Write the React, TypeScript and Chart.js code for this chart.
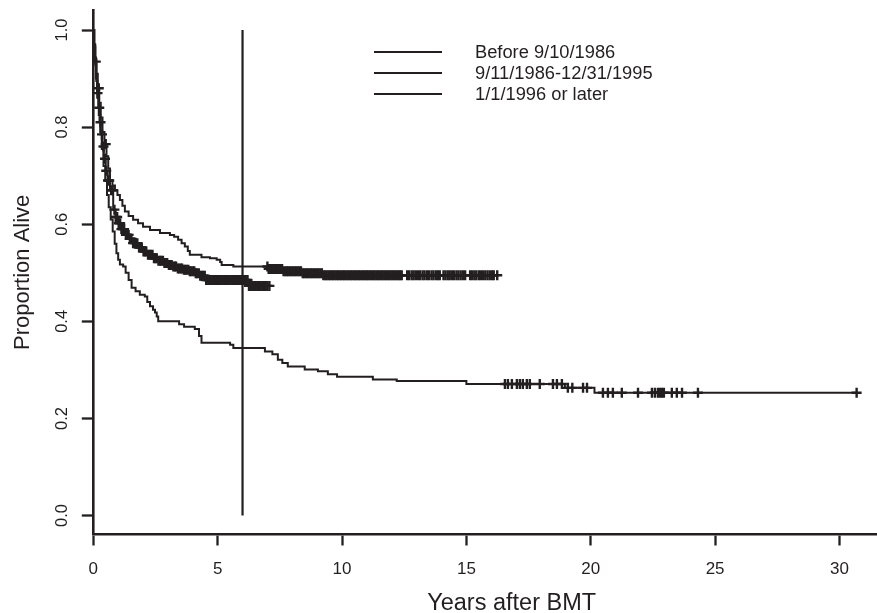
import React, { useEffect, useRef } from "react";
import { Chart, registerables } from "chart.js";

Chart.register(...registerables);

const INK = "#231f20";
const FONT = "'Liberation Sans', Arial, Helvetica, sans-serif";

const seriesLabels = ["Before 9/10/1986", "9/11/1986-12/31/1995", "1/1/1996 or later"];
const xTitle = "Years after BMT";
const yTitle = "Proportion Alive";

// Before 9/10/1986 : step times (years) and survival after each step
const earlyTimes = [0, 0.04, 0.08, 0.12, 0.17, 0.22, 0.28, 0.34, 0.41, 0.48, 0.55, 0.62, 0.7, 0.78, 0.86, 0.93, 1.0, 1.07, 1.2, 1.3, 1.42, 1.54, 1.7, 1.87, 2.07, 2.17, 2.28, 2.4, 2.48, 2.55, 2.61, 3.45, 3.65, 4.08, 4.25, 4.35, 5.5, 5.63, 6.9, 7.2, 7.42, 7.6, 7.82, 8.5, 9.03, 9.43, 9.8, 11.24, 12.2, 15.0, 18.96, 20.15, 30.7];
const earlySurv = [1, 0.965, 0.93, 0.895, 0.86, 0.825, 0.79, 0.755, 0.72, 0.69, 0.66, 0.635, 0.61, 0.585, 0.56, 0.54, 0.527, 0.517, 0.513, 0.5, 0.485, 0.469, 0.462, 0.455, 0.451, 0.44, 0.431, 0.424, 0.418, 0.41, 0.4, 0.394, 0.389, 0.384, 0.37, 0.356, 0.352, 0.345, 0.338, 0.332, 0.321, 0.314, 0.307, 0.301, 0.297, 0.291, 0.286, 0.28, 0.277, 0.271, 0.263, 0.253, 0.253];
const earlyCensor = [16.55, 16.67, 16.83, 17.03, 17.15, 17.27, 17.43, 17.55, 17.95, 18.48, 18.64, 18.84, 19.08, 19.26, 19.69, 19.85, 20.49, 20.69, 20.89, 21.25, 21.9, 22.46, 22.58, 22.7, 22.78, 22.86, 22.94, 23.26, 23.46, 23.67, 24.31, 30.69];

// 9/11/1986-12/31/1995
const midTimes = [0, 0.04, 0.08, 0.13, 0.18, 0.24, 0.3, 0.37, 0.45, 0.53, 0.6, 0.67, 0.77, 0.87, 0.97, 1.07, 1.17, 1.27, 1.42, 1.6, 1.8, 2.0, 2.28, 2.68, 3.08, 3.25, 3.41, 3.55, 3.68, 3.8, 3.88, 4.35, 4.69, 4.96, 5.1, 5.16, 5.63, 7.05, 7.6, 8.4, 9.2, 16.3];
const midSurv = [1, 0.97, 0.94, 0.91, 0.88, 0.85, 0.82, 0.79, 0.765, 0.74, 0.715, 0.69, 0.68, 0.67, 0.66, 0.65, 0.638, 0.626, 0.617, 0.609, 0.602, 0.595, 0.588, 0.582, 0.578, 0.574, 0.568, 0.561, 0.554, 0.545, 0.537, 0.532, 0.53, 0.527, 0.522, 0.516, 0.513, 0.508, 0.503, 0.499, 0.495, 0.495];
const midCensor = [0.22, 0.5, 7.0, 7.05, 7.1, 7.16, 7.22, 7.28, 7.34, 7.41, 7.47, 7.53, 7.59, 7.65, 7.72, 7.78, 7.84, 7.9, 7.97, 8.03, 8.1, 8.16, 8.22, 8.29, 8.35, 8.42, 8.48, 8.55, 8.61, 8.67, 8.74, 8.8, 8.87, 8.93, 9.0, 9.06, 9.13, 9.19, 9.25, 9.32, 9.38, 9.45, 9.51, 9.58, 9.64, 9.7, 9.77, 9.83, 9.9, 9.96, 10.03, 10.09, 10.15, 10.22, 10.28, 10.35, 10.41, 10.48, 10.54, 10.6, 10.67, 10.73, 10.8, 10.86, 10.93, 10.99, 11.05, 11.12, 11.18, 11.25, 11.31, 11.38, 11.44, 11.5, 11.57, 11.63, 11.7, 11.76, 11.83, 11.89, 11.95, 12.02, 12.08, 12.15, 12.21, 12.28, 12.34, 12.4, 12.62, 12.7, 12.8, 12.88, 12.97, 13.06, 13.14, 13.24, 13.32, 13.42, 13.5, 13.6, 13.68, 13.78, 13.86, 13.93, 14.08, 14.16, 14.25, 14.33, 14.42, 14.5, 14.6, 14.68, 14.77, 14.86, 14.95, 15.15, 15.23, 15.32, 15.4, 15.5, 15.58, 15.67, 15.76, 15.85, 15.94, 16.03, 16.1, 16.24];

// 1/1/1996 or later
const lateTimes = [0, 0.03, 0.07, 0.11, 0.15, 0.2, 0.25, 0.3, 0.36, 0.42, 0.5, 0.58, 0.67, 0.8, 0.9, 1.0, 1.13, 1.27, 1.43, 1.6, 1.8, 2.0, 2.2, 2.41, 2.6, 2.81, 3.0, 3.21, 3.4, 3.61, 3.85, 4.09, 4.3, 4.49, 6.25, 7.12];
const lateSurv = [1, 0.97, 0.935, 0.9, 0.87, 0.84, 0.81, 0.785, 0.76, 0.735, 0.71, 0.69, 0.67, 0.63, 0.615, 0.602, 0.59, 0.578, 0.57, 0.561, 0.552, 0.544, 0.537, 0.53, 0.525, 0.52, 0.516, 0.513, 0.509, 0.506, 0.503, 0.499, 0.494, 0.485, 0.473, 0.473];
const lateCensor = [0.1, 0.17, 0.24, 0.29, 0.35, 0.41, 0.47, 0.52, 0.59, 0.64, 0.72, 0.78, 0.85, 0.9, 0.96, 1.02, 1.08, 1.13, 1.19, 1.24, 1.31, 1.36, 1.42, 1.47, 1.53, 1.6, 1.66, 1.71, 1.77, 1.84, 1.9, 1.95, 2.02, 2.08, 2.13, 2.2, 2.26, 2.31, 2.38, 2.44, 2.5, 2.55, 2.62, 2.68, 2.73, 2.8, 2.86, 2.92, 2.97, 3.04, 3.1, 3.15, 3.22, 3.28, 3.33, 3.4, 3.46, 3.52, 3.57, 3.64, 3.7, 3.75, 3.82, 3.88, 3.93, 4.0, 4.06, 4.12, 4.17, 4.24, 4.3, 4.35, 4.42, 4.48, 4.54, 4.6, 4.66, 4.72, 4.79, 4.85, 4.91, 4.97, 5.04, 5.1, 5.16, 5.23, 5.29, 5.35, 5.42, 5.48, 5.55, 5.61, 5.68, 5.74, 5.81, 5.87, 5.94, 6.0, 6.07, 6.13, 6.2, 6.26, 6.33, 6.4, 6.46, 6.53, 6.6, 6.66, 6.73, 6.8, 6.86, 6.93, 7.0, 7.08];

// vertical reference line
const refLineX = 6;
const refLineY = [0, 1];

const xTicks = [0, 5, 10, 15, 20, 25, 30];
const yTicks = [0, 0.2, 0.4, 0.6, 0.8, 1.0];

function survivalAt(times: number[], surv: number[], t: number) {
  let v = surv[0];
  for (let i = 0; i < times.length; i++) {
    if (times[i] <= t) v = surv[i];
    else break;
  }
  return v;
}

function curve(times: number[], surv: number[]) {
  return {
    data: times.map((t, i) => ({ x: t, y: surv[i] })),
    stepped: true,
    borderColor: INK,
    borderWidth: 2,
    pointRadius: 0,
    fill: false,
  };
}

function censors(times: number[], surv: number[], cens: number[]) {
  return {
    data: cens.map((t) => ({ x: t, y: survivalAt(times, surv, t) })),
    showLine: false,
    pointStyle: "cross",
    pointRadius: 5,
    pointBorderWidth: 2.4,
    pointBorderColor: INK,
    borderColor: INK,
    backgroundColor: INK,
  };
}

const legendLineY = [52, 73, 94];

const zeroPad = (s: any) => {
  s.paddingTop = 0;
  s.paddingBottom = 0;
  s.paddingLeft = 0;
  s.paddingRight = 0;
};

export default function App() {
  const ref = useRef<HTMLCanvasElement | null>(null);

  useEffect(() => {
    if (!ref.current) return;
    const chart = new Chart(ref.current, {
      type: "line",
      data: {
        datasets: [
          curve(earlyTimes, earlySurv) as any,
          curve(midTimes, midSurv) as any,
          curve(lateTimes, lateSurv) as any,
          censors(earlyTimes, earlySurv, earlyCensor) as any,
          censors(midTimes, midSurv, midCensor) as any,
          censors(lateTimes, lateSurv, lateCensor) as any,
          {
            data: refLineY.map((y) => ({ x: refLineX, y })),
            borderColor: INK,
            borderWidth: 2.2,
            pointRadius: 0,
            fill: false,
          } as any,
        ],
      },
      options: {
        animation: false,
        responsive: false,
        events: [],
        layout: { autoPadding: false, padding: { top: 10.6, right: 0, bottom: 0, left: 0 } },
        plugins: { legend: { display: false }, tooltip: { enabled: false } },
        scales: {
          x: {
            type: "linear",
            min: 0,
            max: 33.64,
            afterBuildTicks: (s: any) => {
              s.ticks = xTicks.map((v) => ({ value: v }));
            },
            afterFit: (s: any) => {
              s.height = 79;
              zeroPad(s);
            },
            ticks: {
              color: INK,
              font: { family: FONT, size: 17 },
              padding: 13.5,
              maxRotation: 0,
              minRotation: 0,
              callback: (v: any) => String(v),
            },
            grid: { display: true, drawOnChartArea: false, drawTicks: true, tickLength: 11.5, tickWidth: 2.3, tickColor: INK },
            border: { display: true, color: INK, width: 2.6 },
            title: {
              display: true,
              text: xTitle,
              color: INK,
              font: { family: FONT, size: 23.5, lineHeight: 1 },
              padding: { top: 0, bottom: -2 },
            },
          },
          y: {
            type: "linear",
            min: -0.038,
            max: 1.04,
            afterBuildTicks: (s: any) => {
              s.ticks = yTicks.map((v) => ({ value: v }));
            },
            afterFit: (s: any) => {
              s.width = 93.3;
              zeroPad(s);
            },
            ticks: {
              color: INK,
              font: { family: FONT, size: 16.5 },
              padding: 8,
              minRotation: 90,
              maxRotation: 90,
              crossAlign: "center",
              callback: (v: any) => Number(v).toFixed(1),
            },
            grid: { display: true, drawOnChartArea: false, drawTicks: true, tickLength: 11.5, tickWidth: 2.3, tickColor: INK },
            border: { display: true, color: INK, width: 2.6 },
            title: {
              display: true,
              text: yTitle,
              color: INK,
              font: { family: FONT, size: 22, lineHeight: 1 },
              padding: { top: 12, bottom: 0 },
            },
          },
        },
      } as any,
    });
    return () => chart.destroy();
  }, []);

  return (
    <div style={{ position: "fixed", left: 0, top: 0, width: 877, height: 613, background: "#fff", overflow: "hidden" }}>
      <canvas ref={ref} width={930} height={613} style={{ width: 930, height: 613, display: "block" }} />
      {seriesLabels.map((label, i) => (
        <React.Fragment key={label}>
          <div
            style={{
              position: "absolute",
              left: 374,
              top: legendLineY[i] - 1.25,
              width: 68,
              height: 2.5,
              background: INK,
            }}
          />
          <div
            style={{
              position: "absolute",
              left: 475,
              top: legendLineY[i] - 11,
              height: 22,
              lineHeight: "22px",
              fontFamily: FONT,
              fontSize: 18.3,
              color: INK,
              whiteSpace: "nowrap",
            }}
          >
            {label}
          </div>
        </React.Fragment>
      ))}
    </div>
  );
}
